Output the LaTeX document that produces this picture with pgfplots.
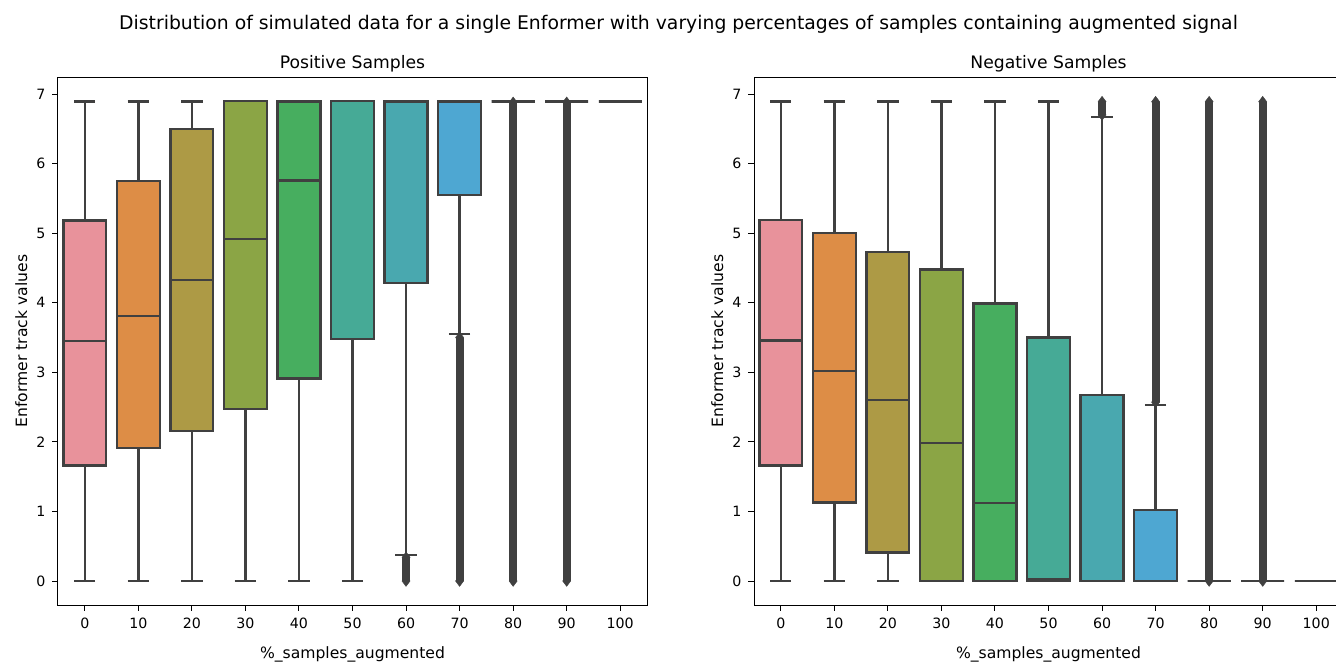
\documentclass[border=0pt]{standalone}
\usepackage{fontspec}
\setmainfont{DejaVu Sans}
\usepackage{pgfplots}
\pgfplotsset{compat=1.18}
\usepgfplotslibrary{statistics}

% box fill colours (desaturated husl palette)
\definecolor{c0}{RGB}{232,146,155}
\definecolor{c1}{RGB}{221,141,70}
\definecolor{c2}{RGB}{173,154,69}
\definecolor{c3}{RGB}{139,165,69}
\definecolor{c4}{RGB}{71,174,95}
\definecolor{c5}{RGB}{70,170,150}
\definecolor{c6}{RGB}{73,168,175}
\definecolor{c7}{RGB}{78,167,210}
\definecolor{c8}{RGB}{120,150,220}
\definecolor{c9}{RGB}{180,140,220}
\definecolor{c10}{RGB}{220,130,200}
\definecolor{lgray}{RGB}{64,64,64}

\pgfplotsset{
  panel/.style={
    scale only axis, width=294.5pt, height=264pt,
    xmin=-0.5, xmax=10.5, ymin=-0.345, ymax=7.245,
    xtick={0,1,2,3,4,5,6,7,8,9,10},
    xticklabels={0,10,20,30,40,50,60,70,80,90,100},
    ytick={0,1,2,3,4,5,6,7},
    tick align=outside, tick pos=left, major tick length=2.8pt,
    axis line style={black, line width=0.5pt},
    every tick/.style={black, line width=0.5pt},
    ticklabel style={font=\fontsize{7.1}{8}\selectfont},
    /pgf/number format/assume math mode=true,
    xlabel={\%\_samples\_augmented},
    ylabel={Enformer track values},
    every axis x label/.style={at={(axis description cs:0.5,-0.1013)}, anchor=base, font=\fontsize{7.8}{9}\selectfont},
    every axis y label/.style={at={(axis description cs:-0.0526,0.5)}, rotate=90, anchor=base, font=\fontsize{7.8}{9}\selectfont},
    every axis title/.style={at={(axis description cs:0.5,1.0165)}, anchor=base, font=\fontsize{8.6}{10}\selectfont},
    boxplot/draw direction=y,
    boxplot/box extend=0.8,
    boxplot/whisker extend=0.4,
  },
  bx/.style={draw=lgray, line width=1.2pt, fill=#1, solid},
  fliers/.style={draw=lgray, line width=4pt, mark=diamond*,
    mark size=2.7pt, mark options={fill=lgray, draw=lgray, line width=0.2pt}},
}

% one box: colour, position, lower whisker, Q1, median, Q3, upper whisker
\newcommand{\bx}[7]{%
  \addplot[bx=#1, boxplot prepared={draw position=#2,
    lower whisker=#3, lower quartile=#4, median=#5,
    upper quartile=#6, upper whisker=#7}] coordinates {};}

\begin{document}
\begin{tikzpicture}

% ---------------- positive samples ----------------
\begin{axis}[panel, at={(29pt,30pt)}, anchor=south west, title={Positive Samples}]
\bx{c0}{0}{0}{1.66}{3.45}{5.18}{6.89}
\bx{c1}{1}{0}{1.91}{3.81}{5.75}{6.89}
\bx{c2}{2}{0}{2.16}{4.33}{6.50}{6.89}
\bx{c3}{3}{0}{2.47}{4.92}{6.90}{6.90}
\bx{c4}{4}{0}{2.91}{5.76}{6.89}{6.89}
\bx{c5}{5}{0}{3.48}{6.90}{6.90}{6.90}
\bx{c6}{6}{0.37}{4.28}{6.89}{6.89}{6.89}
\bx{c7}{7}{3.55}{5.55}{6.89}{6.89}{6.89}
\bx{c8}{8}{6.89}{6.89}{6.89}{6.89}{6.89}
\bx{c9}{9}{6.89}{6.89}{6.89}{6.89}{6.89}
\bx{c10}{10}{6.89}{6.89}{6.89}{6.89}{6.89}
% outlier ranges
\addplot[fliers] coordinates {(6,0) (6,0.34)};
\addplot[fliers] coordinates {(7,0) (7,3.50)};
\addplot[fliers] coordinates {(8,0) (8,6.88)};
\addplot[fliers] coordinates {(9,0) (9,6.88)};
\end{axis}

% ---------------- negative samples ----------------
\begin{axis}[panel, at={(377pt,30pt)}, anchor=south west, title={Negative Samples}]
\bx{c0}{0}{0}{1.66}{3.46}{5.19}{6.89}
\bx{c1}{1}{0}{1.13}{3.02}{5.00}{6.89}
\bx{c2}{2}{0}{0.41}{2.60}{4.73}{6.89}
\bx{c3}{3}{0}{0}{1.98}{4.48}{6.89}
\bx{c4}{4}{0}{0}{1.12}{3.99}{6.89}
\bx{c5}{5}{0}{0}{0.03}{3.50}{6.89}
\bx{c6}{6}{0}{0}{0}{2.67}{6.67}
\bx{c7}{7}{0}{0}{0}{1.02}{2.53}
\bx{c8}{8}{0}{0}{0}{0}{0}
\bx{c9}{9}{0}{0}{0}{0}{0}
\bx{c10}{10}{0}{0}{0}{0}{0}
% outlier ranges
\addplot[fliers] coordinates {(6,6.70) (6,6.89)};
\addplot[fliers] coordinates {(7,2.57) (7,6.89)};
\addplot[fliers] coordinates {(8,0) (8,6.89)};
\addplot[fliers] coordinates {(9,0) (9,6.89)};
\end{axis}

\node[anchor=base, font=\fontsize{9.4}{11}\selectfont] at (339.25pt,317.85pt)
  {Distribution of simulated data for a single Enformer with varying percentages of samples containing augmented signal};

\pgfresetboundingbox
\path[use as bounding box] (0,0) rectangle (668pt,332.5pt);
\end{tikzpicture}
\end{document}
